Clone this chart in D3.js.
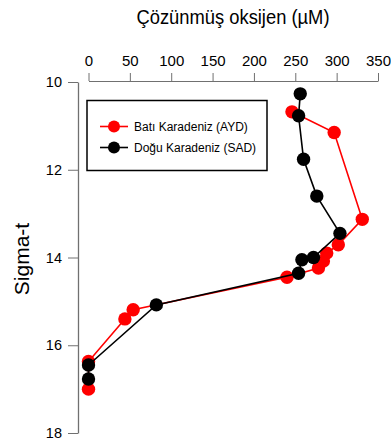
<!DOCTYPE html>
<html>
<head>
<meta charset="utf-8">
<script src="https://cdn.jsdelivr.net/npm/d3@7"></script>
<style>
  html, body { margin: 0; padding: 0; background: #fff; }
  svg { display: block; font-family: "Liberation Sans", Arial, sans-serif; }
</style>
</head>
<body>
<svg id="chart" width="391" height="446"></svg>
<script>
// Dissolved oxygen (µM) against sigma-t for two Black Sea stations
const batiOxygen = [246, 297, 331, 302, 288, 284, 278, 240, 54, 44, 0, 0];
const batiSigma  = [10.68, 11.15, 13.13, 13.71, 13.90, 14.08, 14.24, 14.45, 15.19, 15.40, 16.37, 17.00];
const doguOxygen = [256, 254, 260, 276, 304, 272, 258, 254, 82, 0, 0];
const doguSigma  = [10.27, 10.77, 11.76, 12.60, 13.45, 14.00, 14.05, 14.36, 15.08, 16.45, 16.77];
const oxygenTicks = [0, 50, 100, 150, 200, 250, 300, 350];
const sigmaTicks = [10, 12, 14, 16, 18];
const seriesNames = ["Batı Karadeniz (AYD)", "Doğu Karadeniz (SAD)"];
const seriesColors = ["#ff0000", "#000000"];

const svg = d3.select("#chart");
const x = d3.scaleLinear().domain([0, 350]).range([88.5, 378]);
const y = d3.scaleLinear().domain([10, 18]).range([82, 433]);
const axisColor = "#707070";
const fontStack = "Liberation Sans, Arial, sans-serif";

// Top oxygen axis
const xAxis = svg.append("g")
  .attr("transform", "translate(0,81)")
  .call(d3.axisTop(x).tickValues(oxygenTicks).tickSize(8).tickPadding(7).tickSizeOuter(0));
xAxis.select(".domain").attr("stroke", axisColor);
xAxis.selectAll(".tick line").attr("stroke", axisColor);
xAxis.selectAll("text").attr("font-size", 15).attr("fill", "#000")
  .attr("font-family", fontStack);

// Left sigma-t axis
const yAxis = svg.append("g")
  .attr("transform", "translate(78,0)")
  .call(d3.axisLeft(y).tickValues(sigmaTicks).tickSize(10).tickPadding(6).tickSizeOuter(0));
yAxis.select(".domain").attr("stroke", axisColor).attr("stroke-width", 1.3);
yAxis.selectAll(".tick line").attr("stroke", axisColor);
yAxis.selectAll("text").attr("font-size", 14.5).attr("fill", "#000")
  .attr("font-family", fontStack);

// Axis titles
svg.append("text")
  .attr("x", 233).attr("y", 24)
  .attr("text-anchor", "middle")
  .attr("font-size", 20)
  .attr("textLength", 193)
  .attr("lengthAdjust", "spacingAndGlyphs")
  .text("Çözünmüş oksijen (µM)");

svg.append("text")
  .attr("transform", "translate(29,259) rotate(-90)")
  .attr("text-anchor", "middle")
  .attr("font-size", 21)
  .text("Sigma-t");

// Profiles
const profiles = [
  { ox: batiOxygen, sg: batiSigma, color: seriesColors[0] },
  { ox: doguOxygen, sg: doguSigma, color: seriesColors[1] }
];
const line = d3.line().x(d => x(d[0])).y(d => y(d[1]));

profiles.forEach(p => {
  const pts = p.ox.map((v, i) => [v, p.sg[i]]);
  svg.append("path")
    .datum(pts)
    .attr("d", line)
    .attr("fill", "none")
    .attr("stroke", p.color)
    .attr("stroke-width", 1.6);
  svg.append("g").selectAll("circle")
    .data(pts).join("circle")
    .attr("cx", d => x(d[0]))
    .attr("cy", d => y(d[1]))
    .attr("r", 6.7)
    .attr("fill", p.color);
});

// Legend
const legend = svg.append("g");
legend.append("rect")
  .attr("x", 87).attr("y", 100.5)
  .attr("width", 180).attr("height", 70)
  .attr("fill", "#fff")
  .attr("stroke", "#000")
  .attr("stroke-width", 1.5);
seriesNames.forEach((name, i) => {
  const ly = 126.5 + i * 21;
  legend.append("line")
    .attr("x1", 100).attr("x2", 128)
    .attr("y1", ly).attr("y2", ly)
    .attr("stroke", seriesColors[i]).attr("stroke-width", 1.6);
  legend.append("circle")
    .attr("cx", 114).attr("cy", ly).attr("r", 6)
    .attr("fill", seriesColors[i]);
  legend.append("text")
    .attr("x", 134).attr("y", ly + 4.5)
    .attr("font-size", 12)
    .text(name);
});
</script>
</body>
</html>
